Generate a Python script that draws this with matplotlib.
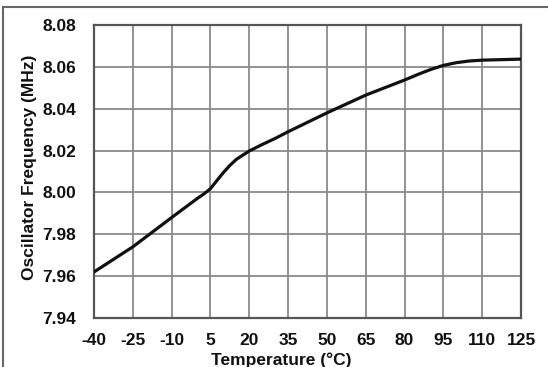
import matplotlib.pyplot as plt
import numpy as np
from matplotlib.lines import Line2D

# 数据
temp_c = [-40, -25, -10, 0, 2.5, 5, 7.5, 10, 12.5, 15, 20, 25, 30, 35, 50, 65, 80, 85, 90, 95,
          100, 105, 110, 125]
freq_mhz = [7.962, 7.974, 7.988, 7.9972, 7.9993, 8.0018, 8.0057, 8.0095, 8.0129, 8.0158, 8.0198,
            8.0229, 8.0258, 8.029, 8.038, 8.0465, 8.0537, 8.0563, 8.0587, 8.0607, 8.062, 8.0628,
            8.0632, 8.0637]

x_ticks = [-40, -25, -10, 5, 20, 35, 50, 65, 80, 95, 110, 125]
y_ticks = [7.94, 7.96, 7.98, 8.00, 8.02, 8.04, 8.06, 8.08]

plt.rcParams['font.family'] = ['Liberation Sans', 'DejaVu Sans']
plt.rcParams['axes.unicode_minus'] = False

W, H = 548, 367
fig = plt.figure(figsize=(W / 100, H / 100), dpi=100)
ax = fig.add_axes([94 / W, 1 - 318 / H, (521 - 94) / W, (318 - 25) / H])

ax.plot(temp_c, freq_mhz, color='#111111', linewidth=2.3, solid_joinstyle='round',
        solid_capstyle='round', zorder=3)

ax.set_xlim(-40, 125)
ax.set_ylim(7.94, 8.08)
ax.set_xticks(x_ticks)
ax.set_xticklabels([str(t) for t in x_ticks])
ax.set_yticks(y_ticks)
ax.set_yticklabels(['{:.2f}'.format(v) for v in y_ticks])

# 网格线
ax.grid(True, color='#8a8a8a', linewidth=1.3)
ax.set_axisbelow(True)

for s in ax.spines.values():
    s.set_color('#555555')
    s.set_linewidth(1.6)

ax.tick_params(length=0, labelsize=12.5, colors='#111111')
ax.tick_params(axis='y', pad=13)
ax.tick_params(axis='x', pad=11)
for lbl in ax.get_xticklabels() + ax.get_yticklabels():
    lbl.set_fontweight('bold')

ax.set_xlabel('Temperature (°C)', fontsize=12.5, fontweight='bold', color='#111111')
ax.set_ylabel('Oscillator Frequency (MHz)', fontsize=12.5, fontweight='bold', color='#111111')
ax.xaxis.set_label_coords(0.439, -0.116)
ax.yaxis.set_label_coords(-0.133, 0.514)

# 外框（上、左）
fig.add_artist(Line2D([3 / W, 1], [1 - 7 / H, 1 - 7 / H], color='#666666', linewidth=1.5))
fig.add_artist(Line2D([3 / W, 3 / W], [0, 1 - 7 / H], color='#666666', linewidth=1.5))

fig.savefig('out.png', dpi=100)
